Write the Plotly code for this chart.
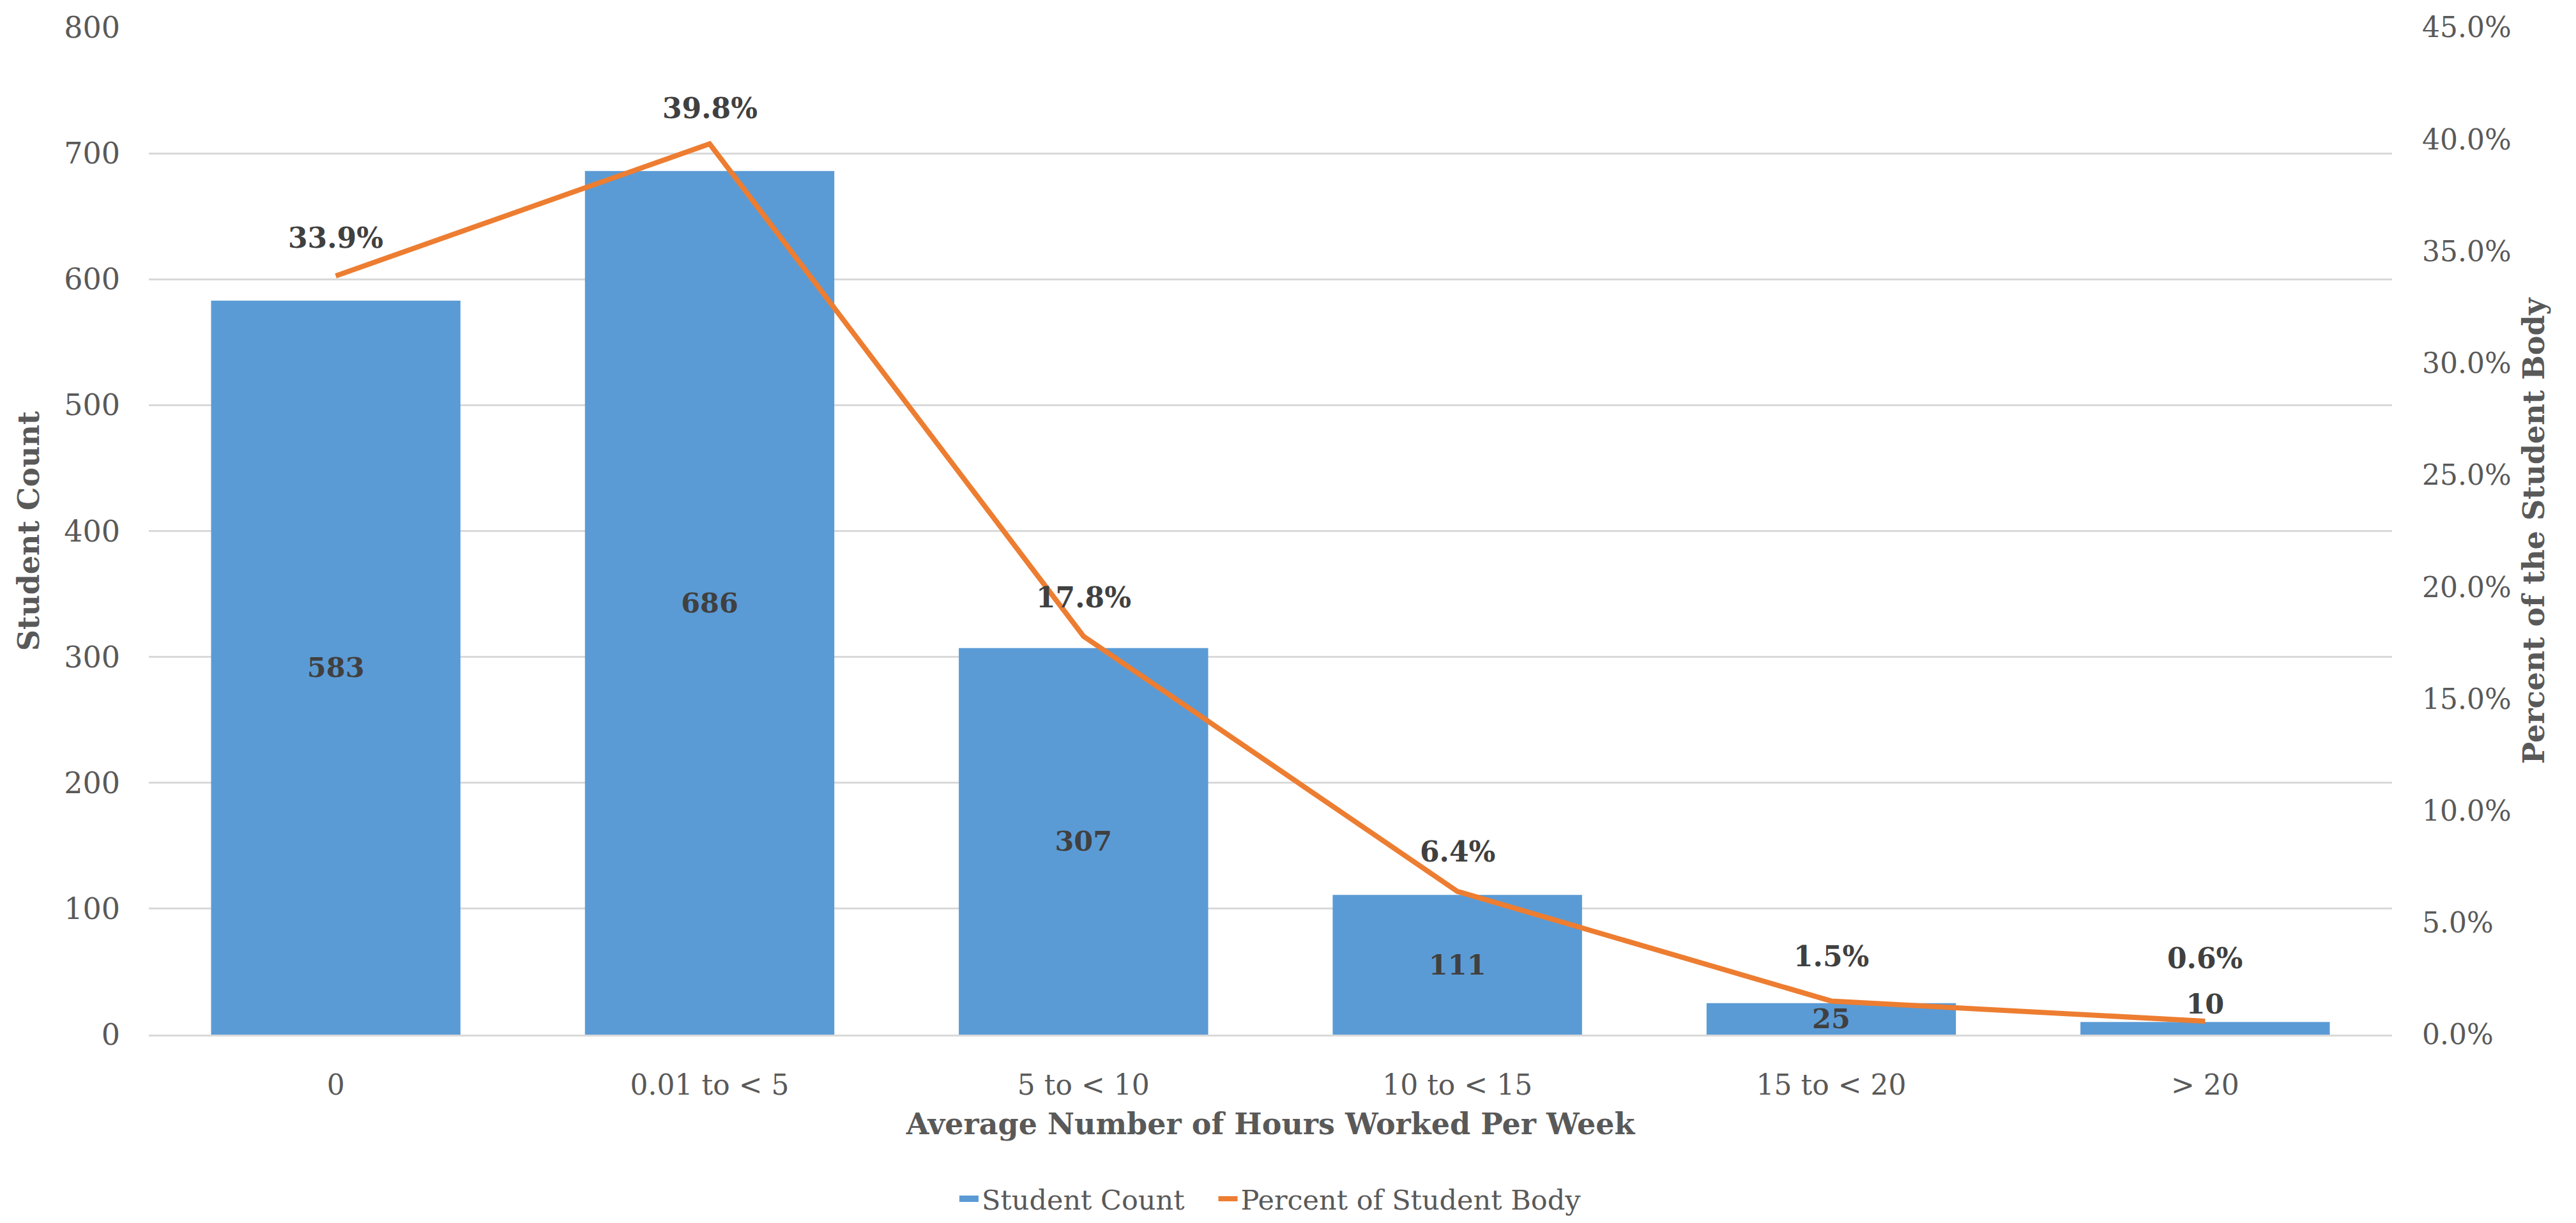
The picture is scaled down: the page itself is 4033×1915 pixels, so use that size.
import plotly.graph_objects as go

# Data
categories = ["0", "0.01 to < 5", "5 to < 10", "10 to < 15", "15 to < 20", "> 20"]
student_count = [583, 686, 307, 111, 25, 10]
percent_body = [0.339, 0.398, 0.178, 0.064, 0.015, 0.006]

left_ticks = [0, 100, 200, 300, 400, 500, 600, 700, 800]
right_ticks = [0, 0.05, 0.10, 0.15, 0.20, 0.25, 0.30, 0.35, 0.40, 0.45]

# pixel offsets of the percent labels above their points (Excel nudges the low ones up)
label_shift = [59, 56, 61, 62, 70, 98]

FONT = "DejaVu Serif"
BAR_COLOR = "#5B9BD5"
LINE_COLOR = "#ED7D31"
GRID = "#D9D9D9"
TICK_COLOR = "#595959"
LABEL_COLOR = "#404040"

fig = go.Figure()

# bars with centered count labels (smallest one sits above)
fig.add_trace(go.Bar(
    x=categories,
    y=student_count,
    name="Student Count",
    showlegend=False,
    marker=dict(color=BAR_COLOR, line=dict(width=0)),
    width=0.667,
    text=[str(v) for v in student_count],
    textposition=["inside", "inside", "inside", "inside", "inside", "outside"],
    insidetextanchor="middle",
    constraintext="none",
    textangle=0,
    insidetextfont=dict(family=FONT, size=43, color=LABEL_COLOR, weight="bold"),
    outsidetextfont=dict(family=FONT, size=43, color=LABEL_COLOR, weight="bold"),
    cliponaxis=False,
))

# legend key for the bars (wide block like the original)
fig.add_trace(go.Scatter(
    x=[None], y=[None],
    name="Student Count\u2003",
    mode="lines",
    line=dict(color=BAR_COLOR, width=24),
))

# percent line on the secondary axis
fig.add_trace(go.Scatter(
    x=categories,
    y=percent_body,
    name="Percent of Student Body",
    mode="lines",
    line=dict(color=LINE_COLOR, width=8),
    yaxis="y2",
    cliponaxis=False,
))

# percent labels above each point
for c, p, s in zip(categories, percent_body, label_shift):
    fig.add_annotation(
        x=c, y=p, xref="x", yref="y2",
        text=f"{p * 100:.1f}%",
        showarrow=False, yshift=s,
        font=dict(family=FONT, size=44, color=LABEL_COLOR, weight="bold"),
    )

fig.update_layout(
    width=4033,
    height=1915,
    margin=dict(l=225, r=296, t=35, b=284),
    plot_bgcolor="white",
    paper_bgcolor="white",
    font=dict(family=FONT, size=44, color=TICK_COLOR),
    bargap=0.333,
    showlegend=True,
    legend=dict(
        orientation="h", x=0.5, xanchor="center", y=-0.163, yanchor="middle",
        font=dict(family=FONT, size=43, color=TICK_COLOR),
        traceorder="normal",
    ),
    xaxis=dict(
        type="category",
        showgrid=False,
        showline=True, linecolor=GRID, linewidth=3,
        ticks="",
        ticklabelstandoff=38,
        tickfont=dict(family=FONT, size=44, color=TICK_COLOR),
        title=dict(text="Average Number of Hours Worked Per Week",
                   font=dict(family=FONT, size=46, color=TICK_COLOR, weight="bold"),
                   standoff=22),
        automargin=False,
    ),
    yaxis=dict(
        range=[0, 800],
        tickvals=left_ticks,
        showgrid=True, gridcolor=GRID, gridwidth=3,
        zeroline=False,
        showline=False,
        ticks="",
        ticklabelstandoff=44,
        tickfont=dict(family=FONT, size=46, color=TICK_COLOR),
        title=dict(text="Student Count",
                   font=dict(family=FONT, size=46, color=TICK_COLOR, weight="bold"),
                   standoff=24),
        automargin=False,
    ),
    yaxis2=dict(
        range=[0, 0.45],
        tickvals=right_ticks,
        tickformat=".1%",
        overlaying="y",
        side="right",
        showgrid=False,
        zeroline=False,
        showline=False,
        ticks="",
        ticklabelstandoff=46,
        tickfont=dict(family=FONT, size=44, color=TICK_COLOR),
        title=dict(text="Percent of the Student Body",
                   font=dict(family=FONT, size=46, color=TICK_COLOR, weight="bold"),
                   standoff=20),
        automargin=False,
    ),
)

fig.write_html("out.html")
